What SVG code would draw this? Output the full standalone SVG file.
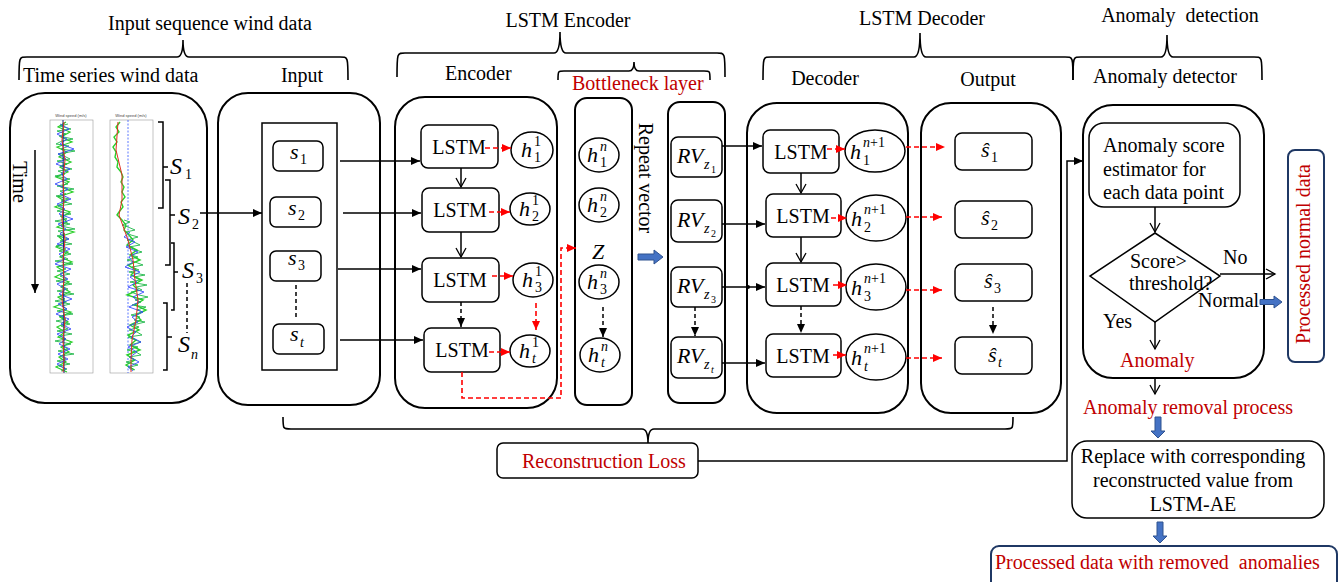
<svg xmlns="http://www.w3.org/2000/svg" width="1344" height="582" viewBox="0 0 1344 582">
<style>
.t{font-family:"Liberation Serif","Times New Roman",serif;font-size:20px;fill:#000}
.red{fill:#C00000}
.mi{font-family:"Liberation Serif","Times New Roman",serif;font-style:italic;font-size:22px;fill:#000}
.S{font-family:"Liberation Serif",serif;font-style:italic;font-size:24px;fill:#000}
.sb{font-family:"Liberation Serif",serif;font-size:14px;fill:#000}
.sbi{font-family:"Liberation Serif",serif;font-size:14px;font-style:italic;fill:#000}
.ss{font-family:"Liberation Serif",serif;font-size:10px;fill:#000}
.box{fill:#fff;stroke:#000;stroke-width:1.5}
.big{fill:#fff;stroke:#000;stroke-width:2}
.ln{stroke:#000;stroke-width:1.5;fill:none}
.dsh{stroke:#000;stroke-width:1.5;fill:none;stroke-dasharray:4 3}
.rd{stroke:#FF0000;stroke-width:1.6;fill:none;stroke-dasharray:5 3}
.brace{stroke:#000;stroke-width:1.6;fill:none}
.blue{fill:#4472C4;stroke:#2F528F;stroke-width:1}
.pb{fill:#fff;stroke:#1F3864;stroke-width:2}
.pre{white-space:pre}
</style>
<defs>
<marker id="af" markerUnits="userSpaceOnUse" markerWidth="10" markerHeight="10" refX="9" refY="5" orient="auto"><path d="M0,1 L9,5 L0,9 z" fill="#000"/></marker>
<marker id="ao" markerUnits="userSpaceOnUse" markerWidth="12" markerHeight="12" refX="10" refY="6" orient="auto"><path d="M1,1 L10,6 L1,11" fill="none" stroke="#000" stroke-width="1.3"/></marker>
<marker id="ar" markerUnits="userSpaceOnUse" markerWidth="10" markerHeight="10" refX="9" refY="5" orient="auto"><path d="M0,1 L9,5 L0,9 z" fill="#FF0000"/></marker>
</defs>
<rect width="1344" height="582" fill="#fff"/>

<!-- headers and braces -->
<g id="headers">
<text class="t" x="210" y="30" text-anchor="middle">Input sequence wind data</text>
<path class="brace" d="M19,80 C19,57 19,57 27,57 L177,57 Q183,57 183,40 Q183,57 189,57 L340,57 C348,57 348,57 348,80"/>
<text class="t" x="23" y="82">Time series wind data</text>
<text class="t" x="302" y="82" text-anchor="middle">Input</text>
<text class="t" x="568" y="27" text-anchor="middle">LSTM Encoder</text>
<path class="brace" d="M397,77 C397,53 397,53 405,53 L554,53 Q560,53 560,32 Q560,53 566,53 L717,53 C725,53 725,53 725,77"/>
<text class="t" x="445" y="80">Encoder</text>
<path class="brace" d="M558,80 C558,71 558,71 564,71 L629,71 Q634,71 634,62 Q634,71 639,71 L704,71 C710,71 710,71 710,80"/>
<text class="t red" x="572" y="90">Bottleneck layer</text>
<text class="t" x="922" y="25" text-anchor="middle">LSTM Decoder</text>
<path class="brace" d="M763,80 C763,57 763,57 771,57 L914,57 Q920,57 920,33 Q920,57 926,57 L1065,57 C1073,57 1073,57 1073,80"/>
<text class="t" x="825" y="85" text-anchor="middle">Decoder</text>
<text class="t" x="988" y="86" text-anchor="middle">Output</text>
<text class="t pre" x="1180" y="22" text-anchor="middle" xml:space="preserve">Anomaly  detection</text>
<path class="brace" d="M1073,80 C1073,57 1073,57 1081,57 L1161,57 Q1167,57 1167,35 Q1167,57 1173,57 L1254,57 C1262,57 1262,57 1262,80"/>
<text class="t" x="1165" y="83" text-anchor="middle">Anomaly detector</text>
<path class="brace" d="M283,417 C283,429 283,429 291,429 L642,429 Q648,429 648,443 Q648,429 654,429 L1005,429 C1013,429 1013,429 1013,417"/>
</g>

<!-- time series panel -->
<g id="timeseries">
<rect class="big" x="10" y="93" width="197" height="310" rx="35"/>
<rect x="50" y="120" width="43" height="253" fill="#fff" stroke="#999" stroke-width="0.6"/>
<rect x="110" y="120" width="43" height="253" fill="#fff" stroke="#999" stroke-width="0.6"/>
<text x="71" y="117" text-anchor="middle" font-family="Liberation Sans,sans-serif" font-size="4" fill="#444">Wind speed (m/s)</text>
<text x="131" y="117" text-anchor="middle" font-family="Liberation Sans,sans-serif" font-size="4" fill="#444">Wind speed (m/s)</text>
<line x1="128" y1="120" x2="128" y2="373" stroke="#3355ff" stroke-width="0.8" stroke-dasharray="2 1.5"/>
<polyline fill="none" stroke="#2ad02a" stroke-width="1.2" points="66,122 58,127 70,132 61,137 72,142 57,147 67,152 59,157 71,162 60,167 68,172 56,177 69,182 61,187 73,192 58,197 66,202 55,207 70,212 62,217 67,222 57,227 74,232 59,237 65,242 56,247 68,252 60,257 72,262 57,267 65,272 55,277 69,282 61,287 70,292 58,297 66,302 54,307 71,312 60,317 68,322 57,327 65,332 58,337 72,342 61,347 69,352 59,357 66,362 56,367 67,372"/>
<polyline fill="none" stroke="#1fb84a" stroke-width="0.9" points="68,124 60,126 71,129 57,131 66,134 59,136 73,139 62,141 56,144 69,146 61,149 75,151 58,154 64,156 70,159 57,161 67,164 60,166 72,169 58,171 65,174 55,176 70,179 62,181 68,184 57,186 74,189 60,191 66,194 56,196 69,199 61,201 72,204 58,206 64,209 57,211 71,214 60,216 67,219 55,221 70,224 61,226 75,229 58,231 65,234 57,236 69,239 60,241 72,244 56,246 66,249 59,251 71,254 62,256 68,259 55,261 73,264 59,266 66,269 57,271 70,274 60,276 67,279 56,281 72,284 61,286 68,289 57,291 74,294 60,296 65,299 55,301 70,304 62,306 67,309 57,311 73,314 59,316 66,319 56,321 70,324 61,326 68,329 57,331 72,334 60,336 66,339 55,341 71,344 62,346 68,349 58,351 74,354 60,356 66,359 57,361 70,364 59,366 67,369 61,371"/>
<polyline fill="none" stroke="#3a4cff" stroke-width="0.9" points="60,124 69,129 57,134 67,139 60,144 74,149 58,154 66,159 56,164 70,169 61,174 67,179 55,184 68,189 60,194 71,199 57,204 65,209 59,214 73,219 58,224 66,229 60,234 69,239 57,244 70,249 59,254 65,259 55,264 71,269 60,274 68,279 57,284 66,289 59,294 72,299 58,304 67,309 56,314 69,319 61,324 71,329 57,334 66,339 59,344 70,349 58,354 68,359 57,364 66,369"/>
<line x1="63" y1="120" x2="64" y2="373" stroke="#1a237e" stroke-width="1"/>
<polyline fill="none" stroke="#e03020" stroke-width="1" points="64,122 62,140 65,160 63,180 64,200 62,220 65,240 63,260 64,280 62,300 65,320 63,340 64,360 63,372"/>
<polyline fill="none" stroke="#2ad02a" stroke-width="1.4" points="120,122 116,127 119,132 114,137 117,142 113,147 116,152 115,157 118,162 117,167 121,172 123,177 121,182 124,187 122,192 125,197 121,202 123,207 119,212 117,215 122,220 126,225 124,230 129,235 133,240 127,245 137,250 130,255 140,260 128,265 136,270 131,275 142,280 133,285 138,290 127,295 143,300 135,305 146,310 136,315 141,320 130,325 139,330 128,335 136,340 130,345 140,350 127,355 135,360 126,365 134,370"/>
<polyline fill="none" stroke="#1fb84a" stroke-width="0.9" points="124,220 130,222 122,225 128,227 135,230 126,232 131,235 138,237 127,240 134,242 140,245 129,247 136,250 142,252 131,255 138,257 127,260 135,262 143,265 132,267 139,270 129,272 145,275 134,277 140,280 130,282 147,285 136,287 142,290 131,292 139,295 148,297 135,300 141,302 132,305 146,307 137,310 143,312 131,315 140,317 134,320 145,322 133,325 139,327 129,330 137,332 142,335 128,337 135,340 141,342 130,345 138,347 127,350 136,352 141,355 129,357 134,360 126,362 138,365 130,367 135,370"/>
<polyline fill="none" stroke="#3a4cff" stroke-width="0.9" points="130,232 124,237 135,242 126,247 138,252 129,257 133,262 125,267 140,272 130,277 137,282 128,287 144,292 133,297 139,302 129,307 143,312 132,317 138,322 127,327 136,332 131,337 141,342 128,347 137,352 130,357 139,362 128,367 133,371"/>
<polyline fill="none" stroke="#e03020" stroke-width="1" points="118,122 116,150 122,175 122,200 119,215 128,240 133,260 135,280 138,300 136,320 132,340 131,360 131,372"/>
<text class="t" transform="translate(13,182) rotate(90)" text-anchor="middle">Time</text>
<path class="ln" d="M158,122 L163,122 L163,208 L158,208 M163,167 L168,167"/>
<path class="ln" d="M165,180 L170,180 L170,265 L165,265 M170,215 L175,215"/>
<path class="ln" d="M171,243 L174,243 L174,310 L171,310 M174,272 L178,272"/>
<path class="ln" d="M163,303 L167,303 L167,370 L163,370 M167,337 L172,337"/>
<line class="dsh" x1="187" y1="283" x2="187" y2="333" stroke-dasharray="3 2"/>
<text class="S" x="170" y="174">S</text><text class="sb" x="185" y="179">1</text>
<text class="S" x="178" y="224">S</text><text class="sb" x="192" y="229">2</text>
<text class="S" x="182" y="278">S</text><text class="sb" x="196" y="283">3</text>
<text class="S" x="178" y="352">S</text><text class="sbi" x="191" y="359">n</text>
</g>

<!-- input -->
<g id="input">
<rect class="big" x="218" y="93" width="162" height="312" rx="30"/>
<rect class="box" x="262" y="123" width="75" height="247"/>
<rect class="box" x="273" y="141" width="50" height="30" rx="6"/>
<text class="mi" x="290" y="159">s</text><text class="sb" x="300" y="164">1</text>
<rect class="box" x="270" y="197" width="51" height="30" rx="6"/>
<text class="mi" x="288" y="215">s</text><text class="sb" x="298" y="220">2</text>
<rect class="box" x="270" y="251" width="51" height="30" rx="6"/>
<text class="mi" x="288" y="265">s</text><text class="sb" x="298" y="270">3</text>
<rect class="box" x="273" y="324" width="51" height="30" rx="6"/>
<text class="mi" x="290" y="341">s</text><text class="sbi" x="300" y="347">t</text>
</g>

<!-- encoder -->
<g id="encoder">
<rect class="big" x="395" y="97" width="162" height="311" rx="30"/>
<rect class="box" x="421" y="125" width="77" height="43" rx="7"/><text class="t" x="459" y="154" text-anchor="middle">LSTM</text>
<rect class="box" x="422" y="188" width="77" height="44" rx="7"/><text class="t" x="460" y="217" text-anchor="middle">LSTM</text>
<rect class="box" x="422" y="258" width="77" height="44" rx="7"/><text class="t" x="460" y="287" text-anchor="middle">LSTM</text>
<rect class="box" x="424" y="328" width="76" height="44" rx="7"/><text class="t" x="462" y="357" text-anchor="middle">LSTM</text>
<ellipse class="box" cx="532" cy="150" rx="21" ry="18"/>
<text class="mi" x="521" y="157">h</text><text class="sb" x="534" y="146">1</text><text class="sb" x="534" y="162">1</text>
<ellipse class="box" cx="530" cy="209" rx="20" ry="16"/>
<text class="mi" x="519" y="216">h</text><text class="sb" x="532" y="205">1</text><text class="sb" x="532" y="221">2</text>
<ellipse class="box" cx="533" cy="280" rx="20" ry="17"/>
<text class="mi" x="522" y="287">h</text><text class="sb" x="535" y="276">1</text><text class="sb" x="535" y="292">3</text>
<ellipse class="box" cx="530" cy="351" rx="20" ry="16"/>
<text class="mi" x="519" y="358">h</text><text class="sb" x="532" y="347">1</text><text class="sbi" x="532" y="363">t</text>
</g>

<!-- bottleneck -->
<g id="bottleneck">
<rect class="big" x="575" y="98" width="57" height="307" rx="12"/>
<ellipse class="box" cx="599" cy="155" rx="20" ry="17"/>
<text class="mi" x="587" y="162">h</text><text class="sbi" x="600" y="151">n</text><text class="sb" x="600" y="167">1</text>
<ellipse class="box" cx="599" cy="205" rx="20" ry="17"/>
<text class="mi" x="587" y="212">h</text><text class="sbi" x="600" y="201">n</text><text class="sb" x="600" y="217">2</text>
<text class="mi" x="598" y="259" text-anchor="middle">Z</text>
<ellipse class="box" cx="599" cy="282" rx="20" ry="17"/>
<text class="mi" x="587" y="289">h</text><text class="sbi" x="600" y="278">n</text><text class="sb" x="600" y="294">3</text>
<ellipse class="box" cx="600" cy="355" rx="20" ry="17"/>
<text class="mi" x="588" y="362">h</text><text class="sbi" x="601" y="351">n</text><text class="sbi" x="601" y="367">t</text>
<text class="t" transform="translate(639,178) rotate(90)" text-anchor="middle">Repeat vector</text>
<polygon class="blue" points="638,254 654,254 654,250 663,257 654,264 654,260 638,260"/>
</g>

<!-- repeat vector -->
<g id="repeatvector">
<rect class="big" x="668" y="102" width="57" height="301" rx="12"/>
<rect class="box" x="671" y="137" width="51" height="40" rx="7"/>
<text class="mi" x="677" y="163">RV</text><text class="sbi" x="704" y="169">z</text><text class="ss" x="711" y="173">1</text>
<rect class="box" x="671" y="200" width="51" height="42" rx="7"/>
<text class="mi" x="677" y="227">RV</text><text class="sbi" x="704" y="233">z</text><text class="ss" x="711" y="237">2</text>
<rect class="box" x="671" y="267" width="51" height="40" rx="7"/>
<text class="mi" x="677" y="293">RV</text><text class="sbi" x="704" y="299">z</text><text class="ss" x="711" y="303">3</text>
<rect class="box" x="671" y="337" width="51" height="41" rx="7"/>
<text class="mi" x="677" y="363">RV</text><text class="sbi" x="704" y="369">z</text><text class="ss" x="711" y="373" font-style="italic">t</text>
</g>

<!-- decoder -->
<g id="decoder">
<rect class="big" x="747" y="103" width="161" height="310" rx="30"/>
<rect class="box" x="763" y="130" width="76" height="43" rx="7"/><text class="t" x="801" y="159" text-anchor="middle">LSTM</text>
<rect class="box" x="766" y="194" width="75" height="43" rx="7"/><text class="t" x="803" y="223" text-anchor="middle">LSTM</text>
<rect class="box" x="766" y="263" width="75" height="43" rx="7"/><text class="t" x="803" y="292" text-anchor="middle">LSTM</text>
<rect class="box" x="766" y="334" width="75" height="43" rx="7"/><text class="t" x="803" y="363" text-anchor="middle">LSTM</text>
<ellipse class="box" cx="875" cy="151" rx="30" ry="21"/>
<text class="mi" x="850" y="159">h</text><text class="sb" x="863" y="147"><tspan font-style="italic">n</tspan>+1</text><text class="sb" x="863" y="165">1</text>
<ellipse class="box" cx="876" cy="218" rx="30" ry="23"/>
<text class="mi" x="851" y="226">h</text><text class="sb" x="864" y="214"><tspan font-style="italic">n</tspan>+1</text><text class="sb" x="864" y="232">2</text>
<ellipse class="box" cx="876" cy="287" rx="30" ry="23"/>
<text class="mi" x="851" y="295">h</text><text class="sb" x="864" y="283"><tspan font-style="italic">n</tspan>+1</text><text class="sb" x="864" y="301">3</text>
<ellipse class="box" cx="876" cy="357" rx="30" ry="23"/>
<text class="mi" x="851" y="365">h</text><text class="sb" x="864" y="353"><tspan font-style="italic">n</tspan>+1</text><text class="sbi" x="864" y="371">t</text>
</g>

<!-- output -->
<g id="output">
<rect class="big" x="921" y="103" width="140" height="310" rx="30"/>
<rect class="box" x="955" y="133" width="77" height="37" rx="7"/>
<text class="mi" x="981" y="157">ŝ</text><text class="sb" x="991" y="162">1</text>
<rect class="box" x="955" y="201" width="77" height="37" rx="7"/>
<text class="mi" x="981" y="225">ŝ</text><text class="sb" x="991" y="230">2</text>
<rect class="box" x="955" y="264" width="77" height="37" rx="7"/>
<text class="mi" x="984" y="288">ŝ</text><text class="sb" x="994" y="293">3</text>
<rect class="box" x="955" y="337" width="77" height="37" rx="7"/>
<text class="mi" x="988" y="362">ŝ</text><text class="sbi" x="998" y="367">t</text>
</g>

<!-- anomaly detector -->
<g id="anomaly-detector">
<rect class="big" x="1083" y="105" width="181" height="273" rx="30"/>
<rect class="box" x="1089" y="123" width="151" height="84" rx="15"/>
<text class="t" x="1103" y="152">Anomaly score</text>
<text class="t" x="1103" y="176">estimator for</text>
<text class="t" x="1103" y="199">each data point</text>
<polygon class="box" points="1155,233 1220,276 1155,322 1090,276"/>
<text class="t" x="1130" y="268" font-size="17">Score&gt;</text>
<text class="t" x="1129" y="290" font-size="17">threshold?</text>
<text class="t" x="1223" y="264">No</text>
<text class="t" x="1198" y="307">Normal</text>
<text class="t" x="1103" y="328">Yes</text>
<text class="t red" x="1120" y="367">Anomaly</text>
</g>

<g id="processed-normal">
<rect class="pb" x="1288" y="150" width="36" height="212" rx="7"/>
<text class="t red" transform="translate(1310,254) rotate(-90)" text-anchor="middle">Processed normal data</text>
</g>

<g id="removal">
<text class="t red" x="1083" y="414">Anomaly removal process</text>
</g>

<g id="replace">
<rect class="box" x="1072" y="441" width="252" height="77" rx="15" stroke-width="2"/>
<text class="t" x="1193" y="463" text-anchor="middle">Replace with corresponding</text>
<text class="t" x="1193" y="487" text-anchor="middle">reconstructed value from</text>
<text class="t" x="1193" y="511" text-anchor="middle">LSTM-AE</text>
</g>

<g id="processed-data">
<rect class="pb" x="991" y="546" width="346" height="44" rx="8"/>
<text class="t red pre" x="995" y="569" xml:space="preserve">Processed data with removed  anomalies</text>
</g>

<g id="recon-loss">
<rect class="box" x="497" y="443" width="201" height="35" rx="6" stroke-width="2"/>
<text class="t red" x="522" y="468">Reconstruction Loss</text>
</g>

<!-- connectors -->
<g id="connectors">
<line class="ln" x1="35" y1="150" x2="35" y2="293" marker-end="url(#af)"/>
<line class="ln" x1="200" y1="213" x2="262" y2="213" marker-end="url(#af)"/>
<line class="dsh" x1="296" y1="285" x2="296" y2="318"/>
<line class="ln" x1="340" y1="161" x2="420" y2="161" marker-end="url(#af)"/>
<line class="ln" x1="343" y1="213" x2="421" y2="213" marker-end="url(#af)"/>
<line class="ln" x1="338" y1="269" x2="421" y2="269" marker-end="url(#af)"/>
<line class="ln" x1="340" y1="340" x2="423" y2="340" marker-end="url(#af)"/>
<line class="ln" x1="461" y1="168" x2="461" y2="187" marker-end="url(#ao)"/>
<line class="ln" x1="461" y1="232" x2="461" y2="257" marker-end="url(#ao)"/>
<line class="dsh" x1="461" y1="302" x2="461" y2="327" marker-end="url(#af)"/>
<line class="rd" x1="485" y1="148" x2="511" y2="148" marker-end="url(#ar)"/>
<line class="rd" x1="489" y1="212" x2="510" y2="212" marker-end="url(#ar)"/>
<line class="rd" x1="492" y1="276" x2="513" y2="276" marker-end="url(#ar)"/>
<line class="rd" x1="489" y1="352" x2="510" y2="352" marker-end="url(#ar)"/>
<line class="rd" x1="536" y1="303" x2="536" y2="330" marker-end="url(#ar)"/>
<path class="rd" d="M462,372 L462,398 L561,398 L561,248 L576,248" marker-end="url(#ar)"/>
<line class="dsh" x1="603" y1="307" x2="603" y2="337" marker-end="url(#af)"/>
<line class="dsh" x1="695" y1="307" x2="695" y2="336" marker-end="url(#af)"/>
<line class="ln" x1="722" y1="146" x2="762" y2="146" marker-end="url(#af)"/>
<line class="ln" x1="722" y1="224" x2="765" y2="224" marker-end="url(#af)"/>
<line class="ln" x1="722" y1="287" x2="765" y2="287" marker-end="url(#af)"/>
<circle cx="748" cy="287" r="2" fill="#000"/>
<line class="ln" x1="722" y1="363" x2="765" y2="363" marker-end="url(#af)"/>
<line class="ln" x1="801" y1="173" x2="801" y2="193" marker-end="url(#ao)"/>
<line class="ln" x1="801" y1="237" x2="801" y2="262" marker-end="url(#ao)"/>
<line class="dsh" x1="801" y1="306" x2="801" y2="333" marker-end="url(#af)"/>
<line class="rd" x1="827" y1="149" x2="845" y2="149" marker-end="url(#ar)"/>
<line class="rd" x1="831" y1="218" x2="847" y2="218" marker-end="url(#ar)"/>
<line class="rd" x1="833" y1="285" x2="847" y2="285" marker-end="url(#ar)"/>
<line class="rd" x1="833" y1="355" x2="846" y2="355" marker-end="url(#ar)"/>
<line class="rd" x1="906" y1="147" x2="945" y2="147" marker-end="url(#ar)"/>
<line class="rd" x1="906" y1="217" x2="942" y2="217" marker-end="url(#ar)"/>
<line class="rd" x1="906" y1="290" x2="942" y2="290" marker-end="url(#ar)"/>
<line class="rd" x1="906" y1="358" x2="942" y2="358" marker-end="url(#ar)"/>
<line class="dsh" x1="993" y1="307" x2="993" y2="334" marker-end="url(#af)"/>
<path class="ln" d="M698,461 L1067,461 L1067,161 L1083,161" marker-end="url(#af)"/>
<line class="ln" x1="1155" y1="207" x2="1155" y2="232" marker-end="url(#ao)"/>
<line class="ln" x1="1220" y1="274" x2="1275" y2="274" marker-end="url(#ao)"/>
<polygon class="blue" points="1260,299.5 1274,299.5 1274,296 1282,302 1274,308 1274,304.5 1260,304.5"/>
<line class="ln" x1="1155" y1="322" x2="1155" y2="349" marker-end="url(#ao)"/>
<line class="ln" x1="1155" y1="378" x2="1155" y2="394" marker-end="url(#ao)"/>
<polygon class="blue" points="1155,417 1161,417 1161,431 1165,431 1158,438 1151,431 1155,431"/>
<polygon class="blue" points="1157,522 1163,522 1163,536 1167,536 1160,543 1153,536 1157,536"/>
</g>
</svg>
